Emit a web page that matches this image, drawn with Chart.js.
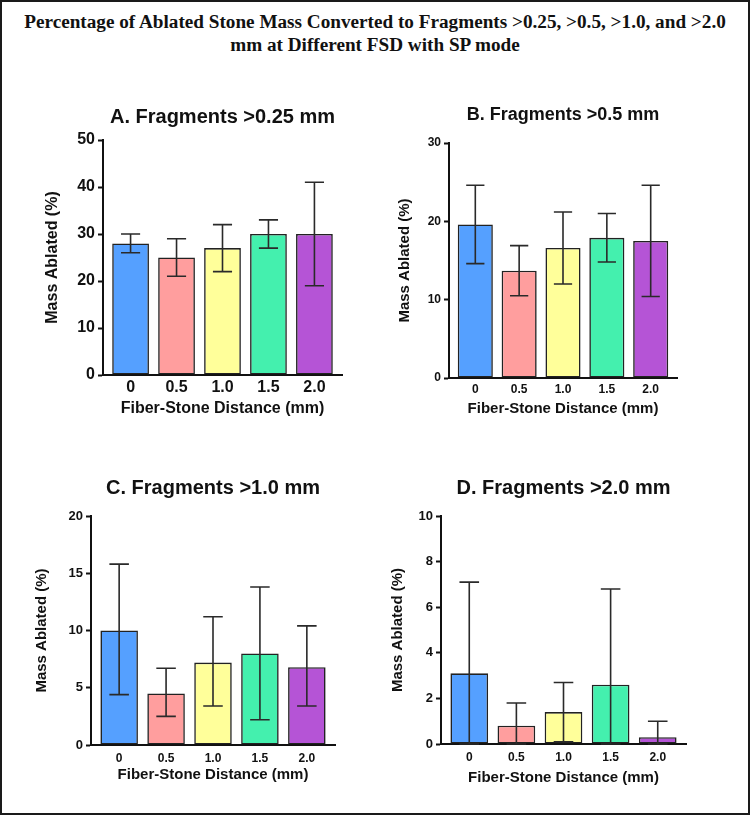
<!DOCTYPE html>
<html>
<head>
<meta charset="utf-8">
<script src="https://cdn.jsdelivr.net/npm/chart.js@4.4.1/dist/chart.umd.min.js"></script>
<style>
  html, body { margin: 0; padding: 0; background: #fff; }
  body { position: relative; width: 750px; height: 815px; overflow: hidden; }
  #frame { position: absolute; left: 0; top: 0; width: 750px; height: 815px; box-sizing: border-box; border: 2px solid #1a1a1a; pointer-events: none; }
  #mainTitle { position: absolute; left: 0; top: 10px; width: 750px; text-align: center;
    font-family: "Liberation Serif", "Times New Roman", serif; font-weight: bold; font-size: 19.2px; line-height: 23px; color: #111; }
  .panel { position: absolute; }
</style>
</head>
<body>
<div id="mainTitle">Percentage of Ablated Stone Mass Converted to Fragments &gt;0.25, &gt;0.5, &gt;1.0, and &gt;2.0<br>mm at Different FSD with SP mode</div>
<div class="panel" id="pA"><canvas id="cA"></canvas></div>
<div class="panel" id="pB"><canvas id="cB"></canvas></div>
<div class="panel" id="pC"><canvas id="cC"></canvas></div>
<div class="panel" id="pD"><canvas id="cD"></canvas></div>
<div id="frame"></div>
<script>
// fibre-stone distances (x categories)
const distances = ['0', '0.5', '1.0', '1.5', '2.0'];
const barColors = ['#55a0ff', '#ff9e9e', '#ffff9a', '#44f0ae', '#b554d6'];

// mean mass ablated (%) and error bar ends, one set per panel
const meanA = [28, 25, 27, 30, 30];
const highA = [30, 29, 32, 33, 41];
const lowA  = [26, 21, 22, 27, 19];

const meanB = [19.6, 13.7, 16.6, 17.9, 17.5];
const highB = [24.6, 16.9, 21.2, 21.0, 24.6];
const lowB  = [14.6, 10.5, 12.0, 14.8, 10.4];

const meanC = [10.0, 4.5, 7.2, 8.0, 6.8];
const highC = [15.8, 6.7, 11.2, 13.8, 10.4];
const lowC  = [4.4, 2.5, 3.4, 2.2, 3.4];

const meanD = [3.1, 0.8, 1.4, 2.6, 0.3];
const highD = [7.1, 1.8, 2.7, 6.8, 1.0];
const lowD  = [0, 0, 0.1, 0, 0];

const panelTitles = ['A. Fragments >0.25 mm', 'B. Fragments >0.5 mm', 'C. Fragments >1.0 mm', 'D. Fragments >2.0 mm'];
const yMax = [50, 30, 20, 10];
const yStep = [10, 10, 5, 2];

const FONT = "'Liberation Sans', Arial, Helvetica, sans-serif";
const INK = '#111';

const errorBarPlugin = {
    id: 'errorBars',
    afterDatasetsDraw(chart, args, opts) {
        const ctx = chart.ctx;
        const yScale = chart.scales.y;
        const meta = chart.getDatasetMeta(0);
        ctx.save();
        ctx.strokeStyle = '#2a2a2a';
        ctx.lineWidth = 1.6;
        meta.data.forEach(function(bar, i) {
            const yHi = yScale.getPixelForValue(opts.high[i]);
            const yLo = yScale.getPixelForValue(opts.low[i]);
            const half = bar.width * 0.26;
            ctx.beginPath();
            ctx.moveTo(bar.x, yHi); ctx.lineTo(bar.x, yLo);
            ctx.moveTo(bar.x - half, yHi); ctx.lineTo(bar.x + half, yHi);
            ctx.moveTo(bar.x - half, yLo); ctx.lineTo(bar.x + half, yLo);
            ctx.stroke();
        });
        ctx.restore();
    }
};

// panel title centred over the plot area, not the whole canvas
const panelTitlePlugin = {
    id: 'panelTitle',
    afterDraw(chart, args, opts) {
        const ctx = chart.ctx;
        const area = chart.chartArea;
        ctx.save();
        ctx.font = 'bold ' + opts.size + 'px ' + FONT;
        ctx.fillStyle = INK;
        ctx.textAlign = 'center';
        ctx.textBaseline = 'middle';
        ctx.fillText(opts.text, (area.left + area.right) / 2, opts.y);
        ctx.restore();
    }
};

// page positions of each plot area and its labels
const panelLayout = [
    { id: 'A', l: 103, t: 140, r: 342, b: 375, titleY: 117, yTitleX: 53,  xTitleY: 408, titleSize: 20, axisTitleSize: 16, yTickSize: 16, xTickSize: 16, xTickPad: 3 },
    { id: 'B', l: 449, t: 143, r: 677, b: 378, titleY: 115, yTitleX: 405, xTitleY: 409, titleSize: 18, axisTitleSize: 15, yTickSize: 12, xTickSize: 12, xTickPad: 4 },
    { id: 'C', l: 91,  t: 516, r: 335, b: 745, titleY: 488, yTitleX: 42,  xTitleY: 775, titleSize: 20, axisTitleSize: 15, yTickSize: 13, xTickSize: 12, xTickPad: 6 },
    { id: 'D', l: 441, t: 516, r: 686, b: 744, titleY: 488, yTitleX: 398, xTitleY: 778, titleSize: 20, axisTitleSize: 15, yTickSize: 13, xTickSize: 12, xTickPad: 6 }
];

const panelData = [
    { mean: meanA, high: highA, low: lowA },
    { mean: meanB, high: highB, low: lowB },
    { mean: meanC, high: highC, low: lowC },
    { mean: meanD, high: highD, low: lowD }
];

panelLayout.forEach(function(L, k) {
    const lh = L.axisTitleSize * 1.2;
    const box = {
        left: Math.round(L.yTitleX - lh / 2 - 2),
        top: L.titleY - 22,
        right: L.r + 22,
        bottom: Math.round(L.xTitleY + lh / 2 + 2)
    };
    const w = box.right - box.left;
    const h = box.bottom - box.top;
    const wrap = document.getElementById('p' + L.id);
    wrap.style.left = box.left + 'px';
    wrap.style.top = box.top + 'px';
    wrap.style.width = w + 'px';
    wrap.style.height = h + 'px';
    const canvas = document.getElementById('c' + L.id);
    canvas.width = w;
    canvas.height = h;

    const d = panelData[k];
    new Chart(canvas.getContext('2d'), {
        type: 'bar',
        data: {
            datasets: [{
                data: d.mean.map(function(v, i) { return { x: i, y: v }; }),
                backgroundColor: barColors,
                borderColor: '#222',
                borderWidth: 1.6,
                borderSkipped: false,
                barPercentage: 0.8,
                categoryPercentage: 1
            }]
        },
        plugins: [errorBarPlugin, panelTitlePlugin],
        options: {
            responsive: false,
            animation: false,
            devicePixelRatio: 1,
            layout: { padding: { top: L.t - box.top, right: box.right - L.r, left: 0, bottom: 0 } },
            plugins: {
                legend: { display: false },
                tooltip: { enabled: false },
                errorBars: { high: d.high, low: d.low },
                panelTitle: { text: panelTitles[k], size: L.titleSize, y: L.titleY - box.top }
            },
            scales: {
                x: {
                    type: 'linear',
                    offset: false,
                    min: -0.6,
                    max: distances.length - 0.4,
                    afterBuildTicks: function(scale) {
                        scale.ticks = distances.map(function(label, i) { return { value: i }; });
                    },
                    afterFit: function(scale) { scale.height = box.bottom - L.b; },
                    grid: { display: false, drawTicks: false },
                    border: { display: true, color: INK, width: 2 },
                    ticks: {
                        callback: function(v) { return distances[v]; },
                        font: { family: FONT, weight: 'bold', size: L.xTickSize },
                        color: INK,
                        padding: L.xTickPad,
                        autoSkip: false,
                        maxRotation: 0
                    },
                    title: {
                        display: true,
                        text: 'Fiber-Stone Distance (mm)',
                        font: { family: FONT, weight: 'bold', size: L.axisTitleSize },
                        color: INK,
                        padding: { top: 0, bottom: 2 }
                    }
                },
                y: {
                    min: 0,
                    max: yMax[k],
                    afterFit: function(scale) { scale.width = L.l - box.left; },
                    grid: { display: true, drawOnChartArea: false, drawTicks: true, tickLength: 5, tickColor: INK, tickWidth: 2 },
                    border: { display: true, color: INK, width: 2 },
                    ticks: {
                        stepSize: yStep[k],
                        font: { family: FONT, weight: 'bold', size: L.yTickSize },
                        color: INK,
                        padding: 3
                    },
                    title: {
                        display: true,
                        text: 'Mass Ablated (%)',
                        font: { family: FONT, weight: 'bold', size: L.axisTitleSize },
                        color: INK,
                        padding: { top: 2, bottom: 0 }
                    }
                }
            }
        }
    });
});
</script>
</body>
</html>
